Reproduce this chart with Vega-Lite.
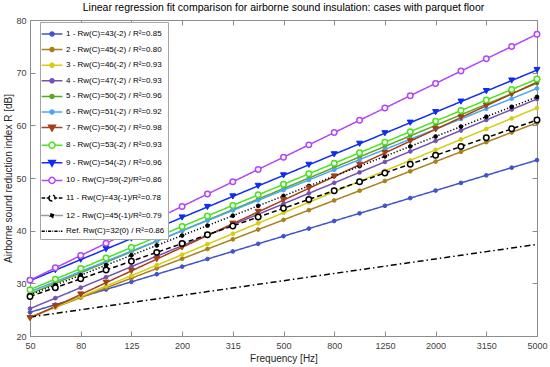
{
"$schema":"https://vega.github.io/schema/vega-lite/v6.json",
"width":507,"height":316,"autosize":"none",
"padding":{"left":30,"top":20,"right":13,"bottom":31},
"background":"white",
"title":{"text":"Linear regression fit comparison for airborne sound insulation: cases with parquet floor","font":"Liberation Sans","fontSize":10.5,"fontWeight":"normal","color":"#000000","anchor":"middle","offset":3},
"config":{"view":{"stroke":null},"axis":{"grid":false,"domainColor":"#8c8c8c","tickColor":"#8c8c8c","tickSize":-5,"labelFont":"Liberation Sans","labelFontSize":9,"labelColor":"#404040","titleFont":"Liberation Sans","titleFontSize":10,"titleFontWeight":"normal","titleColor":"#262626"}},
"data":{"values":[
{"s":"1","f":"50","v":24.5},{"s":"1","f":"63","v":25.95},{"s":"1","f":"80","v":27.39},{"s":"1","f":"100","v":28.84},{"s":"1","f":"125","v":30.28},{"s":"1","f":"160","v":31.73},{"s":"1","f":"200","v":33.17},{"s":"1","f":"250","v":34.62},{"s":"1","f":"315","v":36.06},{"s":"1","f":"400","v":37.51},{"s":"1","f":"500","v":38.95},{"s":"1","f":"630","v":40.4},{"s":"1","f":"800","v":41.84},{"s":"1","f":"1000","v":43.29},{"s":"1","f":"1250","v":44.73},{"s":"1","f":"1600","v":46.18},{"s":"1","f":"2000","v":47.62},{"s":"1","f":"2500","v":49.07},{"s":"1","f":"3150","v":50.51},{"s":"1","f":"4000","v":51.96},{"s":"1","f":"5000","v":53.4},
{"s":"2","f":"50","v":23.6},{"s":"2","f":"63","v":25.45},{"s":"2","f":"80","v":27.29},{"s":"2","f":"100","v":29.14},{"s":"2","f":"125","v":30.98},{"s":"2","f":"160","v":32.83},{"s":"2","f":"200","v":34.67},{"s":"2","f":"250","v":36.52},{"s":"2","f":"315","v":38.36},{"s":"2","f":"400","v":40.21},{"s":"2","f":"500","v":42.05},{"s":"2","f":"630","v":43.9},{"s":"2","f":"800","v":45.74},{"s":"2","f":"1000","v":47.59},{"s":"2","f":"1250","v":49.43},{"s":"2","f":"1600","v":51.28},{"s":"2","f":"2000","v":53.12},{"s":"2","f":"2500","v":54.97},{"s":"2","f":"3150","v":56.81},{"s":"2","f":"4000","v":58.66},{"s":"2","f":"5000","v":60.5},
{"s":"3","f":"50","v":23.5},{"s":"3","f":"63","v":25.49},{"s":"3","f":"80","v":27.48},{"s":"3","f":"100","v":29.47},{"s":"3","f":"125","v":31.46},{"s":"3","f":"160","v":33.45},{"s":"3","f":"200","v":35.44},{"s":"3","f":"250","v":37.43},{"s":"3","f":"315","v":39.42},{"s":"3","f":"400","v":41.41},{"s":"3","f":"500","v":43.4},{"s":"3","f":"630","v":45.39},{"s":"3","f":"800","v":47.38},{"s":"3","f":"1000","v":49.37},{"s":"3","f":"1250","v":51.36},{"s":"3","f":"1600","v":53.35},{"s":"3","f":"2000","v":55.34},{"s":"3","f":"2500","v":57.33},{"s":"3","f":"3150","v":59.32},{"s":"3","f":"4000","v":61.31},{"s":"3","f":"5000","v":63.3},
{"s":"4","f":"50","v":25.2},{"s":"4","f":"63","v":27.19},{"s":"4","f":"80","v":29.18},{"s":"4","f":"100","v":31.17},{"s":"4","f":"125","v":33.16},{"s":"4","f":"160","v":35.15},{"s":"4","f":"200","v":37.14},{"s":"4","f":"250","v":39.13},{"s":"4","f":"315","v":41.12},{"s":"4","f":"400","v":43.11},{"s":"4","f":"500","v":45.1},{"s":"4","f":"630","v":47.09},{"s":"4","f":"800","v":49.08},{"s":"4","f":"1000","v":51.07},{"s":"4","f":"1250","v":53.06},{"s":"4","f":"1600","v":55.05},{"s":"4","f":"2000","v":57.04},{"s":"4","f":"2500","v":59.03},{"s":"4","f":"3150","v":61.02},{"s":"4","f":"4000","v":63.01},{"s":"4","f":"5000","v":65.0},
{"s":"5","f":"50","v":28},{"s":"5","f":"63","v":30},{"s":"5","f":"80","v":32},{"s":"5","f":"100","v":34},{"s":"5","f":"125","v":36},{"s":"5","f":"160","v":38},{"s":"5","f":"200","v":40},{"s":"5","f":"250","v":42},{"s":"5","f":"315","v":44},{"s":"5","f":"400","v":46},{"s":"5","f":"500","v":48},{"s":"5","f":"630","v":50},{"s":"5","f":"800","v":52},{"s":"5","f":"1000","v":54},{"s":"5","f":"1250","v":56},{"s":"5","f":"1600","v":58},{"s":"5","f":"2000","v":60},{"s":"5","f":"2500","v":62},{"s":"5","f":"3150","v":64},{"s":"5","f":"4000","v":66},{"s":"5","f":"5000","v":68},
{"s":"6","f":"50","v":28.4},{"s":"6","f":"63","v":30.33},{"s":"6","f":"80","v":32.26},{"s":"6","f":"100","v":34.19},{"s":"6","f":"125","v":36.12},{"s":"6","f":"160","v":38.05},{"s":"6","f":"200","v":39.98},{"s":"6","f":"250","v":41.91},{"s":"6","f":"315","v":43.84},{"s":"6","f":"400","v":45.77},{"s":"6","f":"500","v":47.7},{"s":"6","f":"630","v":49.63},{"s":"6","f":"800","v":51.56},{"s":"6","f":"1000","v":53.49},{"s":"6","f":"1250","v":55.42},{"s":"6","f":"1600","v":57.35},{"s":"6","f":"2000","v":59.28},{"s":"6","f":"2500","v":61.21},{"s":"6","f":"3150","v":63.14},{"s":"6","f":"4000","v":65.07},{"s":"6","f":"5000","v":67.0},
{"s":"7","f":"50","v":23.4},{"s":"7","f":"63","v":25.64},{"s":"7","f":"80","v":27.88},{"s":"7","f":"100","v":30.12},{"s":"7","f":"125","v":32.36},{"s":"7","f":"160","v":34.6},{"s":"7","f":"200","v":36.84},{"s":"7","f":"250","v":39.08},{"s":"7","f":"315","v":41.32},{"s":"7","f":"400","v":43.56},{"s":"7","f":"500","v":45.8},{"s":"7","f":"630","v":48.04},{"s":"7","f":"800","v":50.28},{"s":"7","f":"1000","v":52.52},{"s":"7","f":"1250","v":54.76},{"s":"7","f":"1600","v":57.0},{"s":"7","f":"2000","v":59.24},{"s":"7","f":"2500","v":61.48},{"s":"7","f":"3150","v":63.72},{"s":"7","f":"4000","v":65.96},{"s":"7","f":"5000","v":68.2},
{"s":"8","f":"50","v":28.8},{"s":"8","f":"63","v":30.8},{"s":"8","f":"80","v":32.8},{"s":"8","f":"100","v":34.8},{"s":"8","f":"125","v":36.8},{"s":"8","f":"160","v":38.8},{"s":"8","f":"200","v":40.8},{"s":"8","f":"250","v":42.8},{"s":"8","f":"315","v":44.8},{"s":"8","f":"400","v":46.8},{"s":"8","f":"500","v":48.8},{"s":"8","f":"630","v":50.8},{"s":"8","f":"800","v":52.8},{"s":"8","f":"1000","v":54.8},{"s":"8","f":"1250","v":56.8},{"s":"8","f":"1600","v":58.8},{"s":"8","f":"2000","v":60.8},{"s":"8","f":"2500","v":62.8},{"s":"8","f":"3150","v":64.8},{"s":"8","f":"4000","v":66.8},{"s":"8","f":"5000","v":68.8},
{"s":"9","f":"50","v":30.5},{"s":"9","f":"63","v":32.5},{"s":"9","f":"80","v":34.5},{"s":"9","f":"100","v":36.5},{"s":"9","f":"125","v":38.5},{"s":"9","f":"160","v":40.5},{"s":"9","f":"200","v":42.5},{"s":"9","f":"250","v":44.5},{"s":"9","f":"315","v":46.5},{"s":"9","f":"400","v":48.5},{"s":"9","f":"500","v":50.5},{"s":"9","f":"630","v":52.5},{"s":"9","f":"800","v":54.5},{"s":"9","f":"1000","v":56.5},{"s":"9","f":"1250","v":58.5},{"s":"9","f":"1600","v":60.5},{"s":"9","f":"2000","v":62.5},{"s":"9","f":"2500","v":64.5},{"s":"9","f":"3150","v":66.5},{"s":"9","f":"4000","v":68.5},{"s":"9","f":"5000","v":70.5},
{"s":"10","f":"50","v":30.6},{"s":"10","f":"63","v":32.94},{"s":"10","f":"80","v":35.27},{"s":"10","f":"100","v":37.61},{"s":"10","f":"125","v":39.94},{"s":"10","f":"160","v":42.28},{"s":"10","f":"200","v":44.61},{"s":"10","f":"250","v":46.95},{"s":"10","f":"315","v":49.28},{"s":"10","f":"400","v":51.62},{"s":"10","f":"500","v":53.95},{"s":"10","f":"630","v":56.29},{"s":"10","f":"800","v":58.62},{"s":"10","f":"1000","v":60.96},{"s":"10","f":"1250","v":63.29},{"s":"10","f":"1600","v":65.63},{"s":"10","f":"2000","v":67.96},{"s":"10","f":"2500","v":70.3},{"s":"10","f":"3150","v":72.63},{"s":"10","f":"4000","v":74.97},{"s":"10","f":"5000","v":77.3},
{"s":"11","f":"50","v":27.5},{"s":"11","f":"63","v":29.18},{"s":"11","f":"80","v":30.85},{"s":"11","f":"100","v":32.53},{"s":"11","f":"125","v":34.2},{"s":"11","f":"160","v":35.88},{"s":"11","f":"200","v":37.55},{"s":"11","f":"250","v":39.23},{"s":"11","f":"315","v":40.9},{"s":"11","f":"400","v":42.58},{"s":"11","f":"500","v":44.25},{"s":"11","f":"630","v":45.93},{"s":"11","f":"800","v":47.6},{"s":"11","f":"1000","v":49.28},{"s":"11","f":"1250","v":50.95},{"s":"11","f":"1600","v":52.63},{"s":"11","f":"2000","v":54.3},{"s":"11","f":"2500","v":55.98},{"s":"11","f":"3150","v":57.65},{"s":"11","f":"4000","v":59.33},{"s":"11","f":"5000","v":61.0},
{"s":"12","f":"50","v":27.8},{"s":"12","f":"63","v":29.68},{"s":"12","f":"80","v":31.56},{"s":"12","f":"100","v":33.44},{"s":"12","f":"125","v":35.32},{"s":"12","f":"160","v":37.2},{"s":"12","f":"200","v":39.08},{"s":"12","f":"250","v":40.96},{"s":"12","f":"315","v":42.84},{"s":"12","f":"400","v":44.72},{"s":"12","f":"500","v":46.6},{"s":"12","f":"630","v":48.48},{"s":"12","f":"800","v":50.36},{"s":"12","f":"1000","v":52.24},{"s":"12","f":"1250","v":54.12},{"s":"12","f":"1600","v":56.0},{"s":"12","f":"2000","v":57.88},{"s":"12","f":"2500","v":59.76},{"s":"12","f":"3150","v":61.64},{"s":"12","f":"4000","v":63.52},{"s":"12","f":"5000","v":65.4},
{"s":"Ref","f":"50","v":23.6},{"s":"Ref","f":"63","v":24.29},{"s":"Ref","f":"80","v":24.98},{"s":"Ref","f":"100","v":25.67},{"s":"Ref","f":"125","v":26.36},{"s":"Ref","f":"160","v":27.05},{"s":"Ref","f":"200","v":27.74},{"s":"Ref","f":"250","v":28.43},{"s":"Ref","f":"315","v":29.12},{"s":"Ref","f":"400","v":29.81},{"s":"Ref","f":"500","v":30.5},{"s":"Ref","f":"630","v":31.19},{"s":"Ref","f":"800","v":31.88},{"s":"Ref","f":"1000","v":32.57},{"s":"Ref","f":"1250","v":33.26},{"s":"Ref","f":"1600","v":33.95},{"s":"Ref","f":"2000","v":34.64},{"s":"Ref","f":"2500","v":35.33},{"s":"Ref","f":"3150","v":36.02},{"s":"Ref","f":"4000","v":36.71},{"s":"Ref","f":"5000","v":37.4}
]},
"encoding":{
"x":{"field":"f","type":"ordinal","scale":{"type":"point","padding":0,"domain":["50","63","80","100","125","160","200","250","315","400","500","630","800","1000","1250","1600","2000","2500","3150","4000","5000"]},"axis":null},
"y":{"field":"v","type":"quantitative","scale":{"domain":[20,80],"nice":false,"zero":false},"axis":null},
"stroke":{"field":"s","type":"nominal","scale":{"domain":["1","2","3","4","5","6","7","8","9","10","11","12","Ref"],"range":["#4153c9","#a8801c","#d6cd12","#7452b2","#5aa71e","#4da6f5","#a3401a","#4ce21c","#0f2cf0","#b347f5","#000000","#000000","#000000"]},"legend":null}
},
"layer":[
{"transform":[{"filter":"false"}],
 "mark":{"type":"point","filled":true,"size":256,"opacity":1,"strokeWidth":1.5},
 "encoding":{
  "x":{"field":"f","type":"ordinal","scale":{"type":"point","padding":0,"domain":["50","63","80","100","125","160","200","250","315","400","500","630","800","1000","1250","1600","2000","2500","3150","4000","5000"]},"axis":{"orient":"top","values":["50","80","125","200","315","500","800","1250","2000","3150","5000"],"labels":false,"title":null}},
  "y":{"field":"v","type":"quantitative","scale":{"domain":[20,80],"nice":false,"zero":false},"axis":{"orient":"right","values":[20,30,40,50,60,70,80],"labels":false,"title":null}},
  "stroke":{"field":"s","type":"nominal","scale":{"domain":["1","2","3","4","5","6","7","8","9","10","11","12","Ref"],"range":["#4153c9","#a8801c","#d6cd12","#7452b2","#5aa71e","#4da6f5","#a3401a","#4ce21c","#0f2cf0","#b347f5","#000000","#000000","#000000"]},
   "legend":{"orient":"none","legendX":10,"legendY":2,"title":null,"fillColor":"white","strokeColor":"#a6a6a6","padding":3,"symbolSize":256,"symbolStrokeWidth":1.5,"labelFont":"Liberation Sans","labelFontSize":8,"labelColor":"#000000","rowPadding":1.6,"labelOffset":5,
   "labelExpr":"['1 - Rw(C)=43(-2) / R²=0.85','2 - Rw(C)=45(-2) / R²=0.80','3 - Rw(C)=46(-2) / R²=0.93','4 - Rw(C)=47(-2) / R²=0.93','5 - Rw(C)=50(-2) / R²=0.96','6 - Rw(C)=51(-2) / R²=0.92','7 - Rw(C)=50(-2) / R²=0.98','8 - Rw(C)=53(-2) / R²=0.93','9 - Rw(C)=54(-2) / R²=0.96','10 - Rw(C)=59(-2)/R²=0.86','11 - Rw(C)=43(-1)/R²=0.78','12 - Rw(C)=45(-1)/R²=0.79','Ref. Rw(C)=32(0) / R²=0.86'][indexof(['1','2','3','4','5','6','7','8','9','10','11','12','Ref'], datum.value)]"}},
  "fill":{"field":"s","type":"nominal","scale":{"domain":["1","2","3","4","5","6","7","8","9","10","11","12","Ref"],"range":["#4153c9","#a8801c","#d6cd12","#7452b2","#5aa71e","#4da6f5","#a3401a","#ffffff","#0f2cf0","#ffffff","#ffffff","#000000","#ffffff"]},
   "legend":{"orient":"none","legendX":10,"legendY":2,"title":null}},
  "shape":{"field":"s","type":"nominal","scale":{"domain":["1","2","3","4","5","6","7","8","9","10","11","12","Ref"],"range":[
   "M-1.3,0H1.3M-0.25,0A0.25,0.25,0,1,0,0.25,0A0.25,0.25,0,1,0,-0.25,0Z",
   "M-1.3,0H1.3M-0.25,0A0.25,0.25,0,1,0,0.25,0A0.25,0.25,0,1,0,-0.25,0Z",
   "M-1.3,0H1.3M-0.25,0A0.25,0.25,0,1,0,0.25,0A0.25,0.25,0,1,0,-0.25,0Z",
   "M-1.3,0H1.3M-0.25,0A0.25,0.25,0,1,0,0.25,0A0.25,0.25,0,1,0,-0.25,0Z",
   "M-1.3,0H1.3M-0.25,0A0.25,0.25,0,1,0,0.25,0A0.25,0.25,0,1,0,-0.25,0Z",
   "M-1.3,0H1.3M-0.25,0A0.25,0.25,0,1,0,0.25,0A0.25,0.25,0,1,0,-0.25,0Z",
   "M-1.3,0H1.3M-0.42,-0.3L0.42,-0.3L0,0.42Z",
   "M-1.3,0H-0.38M0.38,0H1.3M-0.38,0A0.38,0.38,0,1,0,0.38,0A0.38,0.38,0,1,0,-0.38,0Z",
   "M-1.3,0H1.3M-0.42,-0.3L0.42,-0.3L0,0.42Z",
   "M-1.3,0H-0.38M0.38,0H1.3M-0.38,0A0.38,0.38,0,1,0,0.38,0A0.38,0.38,0,1,0,-0.38,0Z",
   "M-1.3,0H-0.85M-0.65,0H-0.38M0.38,0H0.65M0.85,0H1.3M-0.38,0A0.38,0.38,0,1,0,0.38,0A0.38,0.38,0,1,0,-0.38,0Z",
   "M-1.3,0H-1.2M-1.05,0H-0.95M-0.8,0H-0.7M-0.55,0H-0.45M0.45,0H0.55M0.7,0H0.8M0.95,0H1.05M1.2,0H1.3M-0.25,0A0.25,0.25,0,1,0,0.25,0A0.25,0.25,0,1,0,-0.25,0Z",
   "M-1.3,0H-0.9M-0.75,0H-0.65M-0.5,0H-0.1M0.05,0H0.15M0.3,0H0.7M0.85,0H0.95M1.1,0H1.3"]},
   "legend":{"orient":"none","legendX":10,"legendY":2,"title":null}}
 }},
{"mark":{"type":"line"},
 "encoding":{
  "x":{"field":"f","type":"ordinal","scale":{"type":"point","padding":0,"domain":["50","63","80","100","125","160","200","250","315","400","500","630","800","1000","1250","1600","2000","2500","3150","4000","5000"]},"axis":{"orient":"bottom","values":["50","80","125","200","315","500","800","1250","2000","3150","5000"],"labelAngle":0,"labelPadding":10,"title":"Frequency [Hz]","titlePadding":3}},
  "y":{"field":"v","type":"quantitative","scale":{"domain":[20,80],"nice":false,"zero":false},"axis":{"orient":"left","values":[20,30,40,50,60,70,80],"labelPadding":9,"title":"Airborne sound reduction index R [dB]","titlePadding":2}},
  "strokeDash":{"field":"s","type":"nominal","scale":{"domain":["1","2","3","4","5","6","7","8","9","10","11","12","Ref"],"range":[[1,0],[1,0],[1,0],[1,0],[1,0],[1,0],[1,0],[1,0],[1,0],[1,0],[5,3],[1.2,2],[6,3,1.5,3]]},"legend":null},
  "strokeWidth":{"field":"s","type":"nominal","scale":{"domain":["1","2","3","4","5","6","7","8","9","10","11","12","Ref"],"range":[1.5,1.5,1.5,1.5,1.5,1.5,2,1.5,2,1.5,1.5,1.5,2]},"legend":null}
 }},
{"transform":[{"filter":{"field":"s","oneOf":["1","2","3","4","5","6","12"]}}],
 "mark":{"type":"point","shape":"circle","filled":true,"size":14,"opacity":1,"strokeWidth":1},
 "encoding":{"fill":{"field":"s","type":"nominal","scale":{"domain":["1","2","3","4","5","6","7","8","9","10","11","12","Ref"],"range":["#4153c9","#a8801c","#d6cd12","#7452b2","#5aa71e","#4da6f5","#a3401a","#ffffff","#0f2cf0","#ffffff","#ffffff","#000000","#ffffff"]},"legend":null}}},
{"transform":[{"filter":{"field":"s","oneOf":["7","9"]}}],
 "mark":{"type":"point","shape":"triangle-down","filled":true,"size":36,"opacity":1,"strokeWidth":1},
 "encoding":{"fill":{"field":"s","type":"nominal","scale":{"domain":["1","2","3","4","5","6","7","8","9","10","11","12","Ref"],"range":["#4153c9","#a8801c","#d6cd12","#7452b2","#5aa71e","#4da6f5","#a3401a","#ffffff","#0f2cf0","#ffffff","#ffffff","#000000","#ffffff"]},"legend":null}}},
{"transform":[{"filter":{"field":"s","oneOf":["8","10","11"]}}],
 "mark":{"type":"point","shape":"circle","filled":true,"size":30,"opacity":1,"strokeWidth":1.5},
 "encoding":{"fill":{"field":"s","type":"nominal","scale":{"domain":["1","2","3","4","5","6","7","8","9","10","11","12","Ref"],"range":["#4153c9","#a8801c","#d6cd12","#7452b2","#5aa71e","#4da6f5","#a3401a","#ffffff","#0f2cf0","#ffffff","#ffffff","#000000","#ffffff"]},"legend":null}}}
],
"resolve":{"axis":{"x":"independent","y":"independent"}}
}
